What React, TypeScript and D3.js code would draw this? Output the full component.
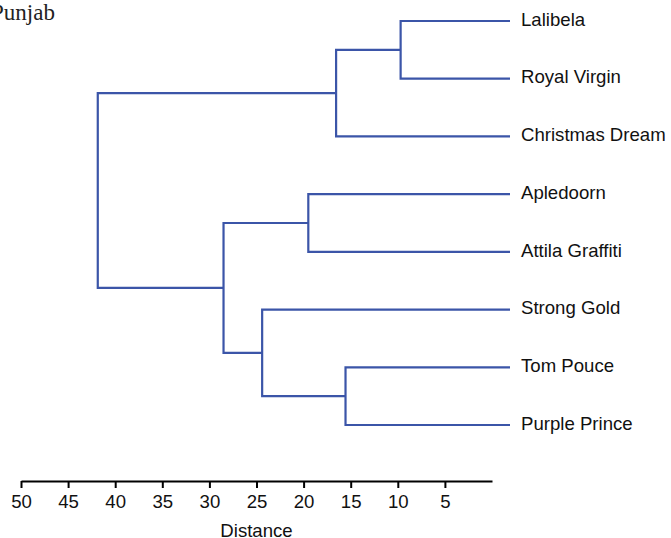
import { useEffect, useRef } from 'react';
import * as d3 from 'd3';

// leaves top to bottom
const leafNames = [
  'Lalibela',
  'Royal Virgin',
  'Christmas Dream',
  'Apledoorn',
  'Attila Graffiti',
  'Strong Gold',
  'Tom Pouce',
  'Purple Prince',
];

// merges: id, left child, right child, distance
const clusterIds = ['c1', 'c2', 'c3', 'c4', 'c5', 'c6', 'root'];
const clusterLeft = ['Lalibela', 'c1', 'Apledoorn', 'Tom Pouce', 'Strong Gold', 'c3', 'c2'];
const clusterRight = ['Royal Virgin', 'Christmas Dream', 'Attila Graffiti', 'Purple Prince', 'c4', 'c5', 'c6'];
const clusterHeights = [9.7, 16.55, 19.5, 15.55, 24.4, 28.5, 41.85];

const axisTicks = [50, 45, 40, 35, 30, 25, 20, 15, 10, 5];

const W = 671;
const H = 538;
const LINE = '#3b55a8';
const FONT = "Arial, 'Liberation Sans', sans-serif";
const FS = 18.6;
const leafOverhang = 18;

type Node = { name: string; dist: number; children?: Node[] };

function build(id: string): Node {
  const i = clusterIds.indexOf(id);
  if (i < 0) return { name: id, dist: 0 };
  return { name: id, dist: clusterHeights[i], children: [build(clusterLeft[i]), build(clusterRight[i])] };
}

export default function App() {
  const axisRef = useRef<SVGGElement>(null);

  const x = d3.scaleLinear().domain([50, 0]).range([21, 492]);
  const y = d3.scalePoint<string>().domain(leafNames).range([21, 425]);

  const root = d3.hierarchy<Node>(build('root'));
  const pos = new Map<d3.HierarchyNode<Node>, { px: number; py: number }>();
  root.eachAfter(n => {
    if (!n.children) {
      pos.set(n, { px: x(0) + leafOverhang, py: y(n.data.name)! });
    } else {
      const ys = n.children.map(c => pos.get(c)!.py);
      pos.set(n, { px: x(n.data.dist), py: d3.mean(ys)! });
    }
  });

  const links = root.descendants().filter(n => n.children).map(n => {
    const p = pos.get(n)!;
    const [a, b] = n.children!.map(c => pos.get(c)!);
    return `M${a.px},${a.py}H${p.px}V${b.py}H${b.px}`;
  });

  useEffect(() => {
    if (!axisRef.current) return;
    const g = d3.select(axisRef.current);
    g.selectAll('*').remove();
    g.call(
      d3.axisBottom(x).tickValues(axisTicks).tickSize(7).tickSizeOuter(0).tickPadding(7)
    );
    g.attr('font-size', FS).attr('font-family', FONT);
    g.select('.domain').attr('stroke', '#000').attr('stroke-width', 2);
    g.selectAll('.tick line').attr('stroke', '#000').attr('stroke-width', 2);
    g.selectAll('.tick text').attr('fill', '#111');
  }, []);

  return (
    <svg
      width={W}
      height={H}
      style={{ position: 'absolute', left: 0, top: 0, background: '#fff' }}
    >
      <text
        x={-9}
        y={19.5}
        fontFamily="'Times New Roman', 'Liberation Serif', serif"
        fontSize={23}
        fill="#222"
      >
        Punjab
      </text>
      <g fill="none" stroke={LINE} strokeWidth={2.2} strokeLinejoin="miter">
        {links.map((d, i) => (
          <path key={i} d={d} />
        ))}
      </g>
      <g fontFamily={FONT} fontSize={FS} fill="#111">
        {root.leaves().map(l => {
          const p = pos.get(l)!;
          return (
            <text key={l.data.name} x={p.px + 11} y={p.py} dy="0.25em">
              {l.data.name}
            </text>
          );
        })}
      </g>
      <g ref={axisRef} transform="translate(0,481)" />
      <text
        x={(x.range()[0] + x.range()[1]) / 2}
        y={537}
        textAnchor="middle"
        fontFamily={FONT}
        fontSize={FS}
        fill="#111"
      >
        Distance
      </text>
    </svg>
  );
}
